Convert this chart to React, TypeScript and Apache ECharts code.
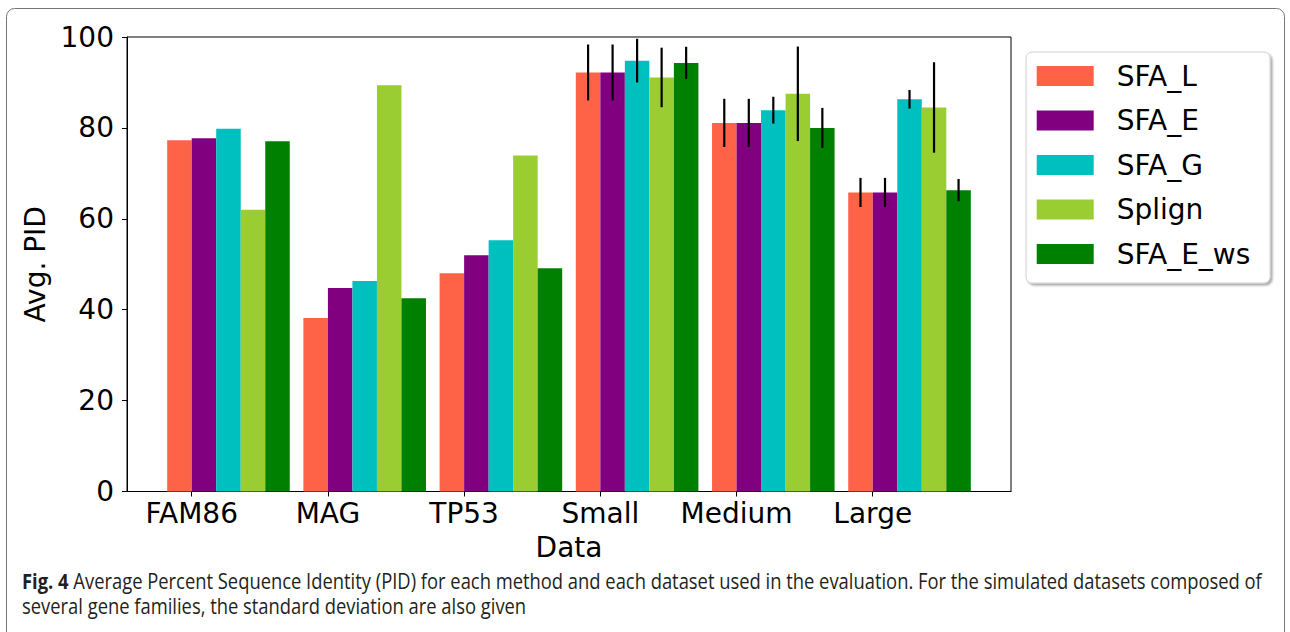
import React, { useEffect, useRef } from 'react';
import * as echarts from 'echarts';

const categories = ['FAM86', 'MAG', 'TP53', 'Small', 'Medium', 'Large'];
const methods = ['SFA_L', 'SFA_E', 'SFA_G', 'Splign', 'SFA_E_ws'];
const colors = ['#ff6347', '#800080', '#00bfbf', '#9acd32', '#008000'];

const sfaL = [77.3, 38.2, 48.0, 92.2, 81.1, 65.8];
const sfaE = [77.7, 44.8, 52.0, 92.2, 81.1, 65.8];
const sfaG = [79.8, 46.3, 55.3, 94.8, 83.9, 86.3];
const splign = [62.0, 89.4, 73.9, 91.1, 87.5, 84.5];
const sfaEws = [77.05, 42.5, 49.1, 94.3, 80.0, 66.3];

const sfaLStd = [null, null, null, 6.15, 5.3, 3.2];
const sfaEStd = [null, null, null, 6.15, 5.3, 3.2];
const sfaGStd = [null, null, null, 4.8, 2.95, 2.05];
const splignStd = [null, null, null, 6.55, 10.4, 9.95];
const sfaEwsStd = [null, null, null, 3.55, 4.4, 2.45];

const captionBold = 'Fig. 4';
const captionLine1 =
  ' Average Percent Sequence Identity (PID) for each method and each dataset used in the evaluation. For the simulated datasets composed of';
const captionLine2 = 'several gene families, the standard deviation are also given';

const values = [sfaL, sfaE, sfaG, splign, sfaEws];
const stds = [sfaLStd, sfaEStd, sfaGStd, splignStd, sfaEwsStd];

const BAR_W = 0.18;
const FONT = 'DejaVu Sans';
const CAP_FONT = 'Open Sans';

function measure(txt: string, font: string): number {
  const c = document.createElement('canvas').getContext('2d');
  if (!c) return txt.length * 10;
  c.font = font;
  return c.measureText(txt).width;
}

export default function App() {
  const ref = useRef<HTMLDivElement>(null);
  useEffect(() => {
    if (!ref.current) return;
    const chart = echarts.init(ref.current, null, { renderer: 'svg' });

    const capSize = 21;
    const w1 =
      measure(captionBold, `bold ${capSize}px "${CAP_FONT}"`) +
      measure(captionLine1, `${capSize}px "${CAP_FONT}"`);
    const capScale = 1241 / w1;

    const series = methods.map((name, i) => ({
      type: 'custom',
      name,
      itemStyle: { color: colors[i] },
      encode: { x: 0, y: 1 },
      data: values[i].map((v, k) => [k, v, stds[i][k] ?? 0]),
      renderItem: (params: any, api: any) => {
        const k = api.value(0);
        const v = api.value(1);
        const sd = api.value(2);
        const p0 = api.coord([k + (i - 1) * BAR_W, v]);
        const p1 = api.coord([k + i * BAR_W, 0]);
        const children: any[] = [
          {
            type: 'rect',
            shape: { x: p0[0], y: p0[1], width: p1[0] - p0[0], height: p1[1] - p0[1] },
            style: { fill: colors[i] },
          },
        ];
        if (sd > 0) {
          const xc = k + (i - 0.5) * BAR_W;
          const a = api.coord([xc, v + sd]);
          const b = api.coord([xc, v - sd]);
          children.push({
            type: 'line',
            shape: { x1: a[0], y1: a[1], x2: b[0], y2: b[1] },
            style: { stroke: '#000', lineWidth: 2.2 },
          });
        }
        return { type: 'group', children };
      },
    }));

    chart.setOption({
      animation: false,
      backgroundColor: '#fff',
      grid: {
        left: 127,
        right: 279,
        top: 37,
        bottom: 140.5,
        show: true,
        borderColor: '#000',
        borderWidth: 1,
        backgroundColor: 'transparent',
      },
      xAxis: {
        type: 'value',
        min: -0.475,
        max: 6.015,
        name: 'Data',
        nameLocation: 'middle',
        nameGap: 42,
        nameTextStyle: { fontFamily: FONT, fontSize: 28, color: '#000' },
        axisLine: { show: true, onZero: false, lineStyle: { color: '#000', width: 1 } },
        axisTick: {
          show: true,
          length: 5,
          lineStyle: { color: '#000' },
          customValues: [0, 1, 2, 3, 4, 5],
        },
        axisLabel: {
          customValues: [0, 1, 2, 3, 4, 5],
          formatter: (v: number) => categories[Math.round(v)] ?? '',
          fontFamily: FONT,
          fontSize: 28,
          color: '#000',
          margin: 8,
        },
        splitLine: { show: false },
      },
      yAxis: {
        type: 'value',
        min: 0,
        max: 100,
        interval: 20,
        name: 'Avg. PID',
        nameLocation: 'middle',
        nameGap: 75,
        nameTextStyle: { fontFamily: FONT, fontSize: 28, color: '#000' },
        axisLine: { show: true, onZero: false, lineStyle: { color: '#000', width: 1 } },
        axisTick: { show: true, length: 5, lineStyle: { color: '#000' } },
        axisLabel: { fontFamily: FONT, fontSize: 28, color: '#000', margin: 13 },
        splitLine: { show: false },
      },
      legend: {
        orient: 'vertical',
        left: 1036.7,
        top: 62,
        padding: 0,
        z: 10,
        icon: 'rect',
        itemWidth: 57,
        itemHeight: 20,
        itemGap: 16.5,
        data: methods,
        textStyle: {
          fontFamily: FONT,
          fontSize: 28,
          color: '#000',
          lineHeight: 24,
          padding: [0, 0, 0, 18],
        },
      },
      graphic: [
        {
          type: 'rect',
          z: 0,
          shape: { x: 6.5, y: 8.5, width: 1278, height: 700, r: 8 },
          style: { fill: 'none', stroke: '#777', lineWidth: 1 },
        },
        {
          type: 'rect',
          z: 1,
          shape: { x: 1026, y: 52, width: 244, height: 231, r: 6 },
          style: {
            fill: '#fff',
            stroke: '#d0d0d0',
            lineWidth: 1,
            shadowBlur: 2,
            shadowOffsetX: 2,
            shadowOffsetY: 2,
            shadowColor: 'rgba(0,0,0,0.35)',
          },
        },
        {
          type: 'text',
          z: 2,
          x: 22,
          y: 592,
          scaleX: capScale,
          style: {
            text: `{b|${captionBold}}${captionLine1}`,
            fontFamily: CAP_FONT,
            fontSize: capSize,
            fill: '#231f20',
            verticalAlign: 'bottom',
            rich: {
              b: { fontFamily: CAP_FONT, fontSize: capSize, fontWeight: 'bold', fill: '#231f20' },
            },
          },
        },
        {
          type: 'text',
          z: 2,
          x: 22,
          y: 617,
          scaleX: capScale,
          style: {
            text: captionLine2,
            fontFamily: CAP_FONT,
            fontSize: capSize,
            fill: '#231f20',
            verticalAlign: 'bottom',
          },
        },
      ],
      series,
    });

    return () => chart.dispose();
  }, []);

  return (
    <div
      ref={ref}
      style={{ position: 'fixed', left: 0, top: 0, width: 1290, height: 632 }}
    />
  );
}
